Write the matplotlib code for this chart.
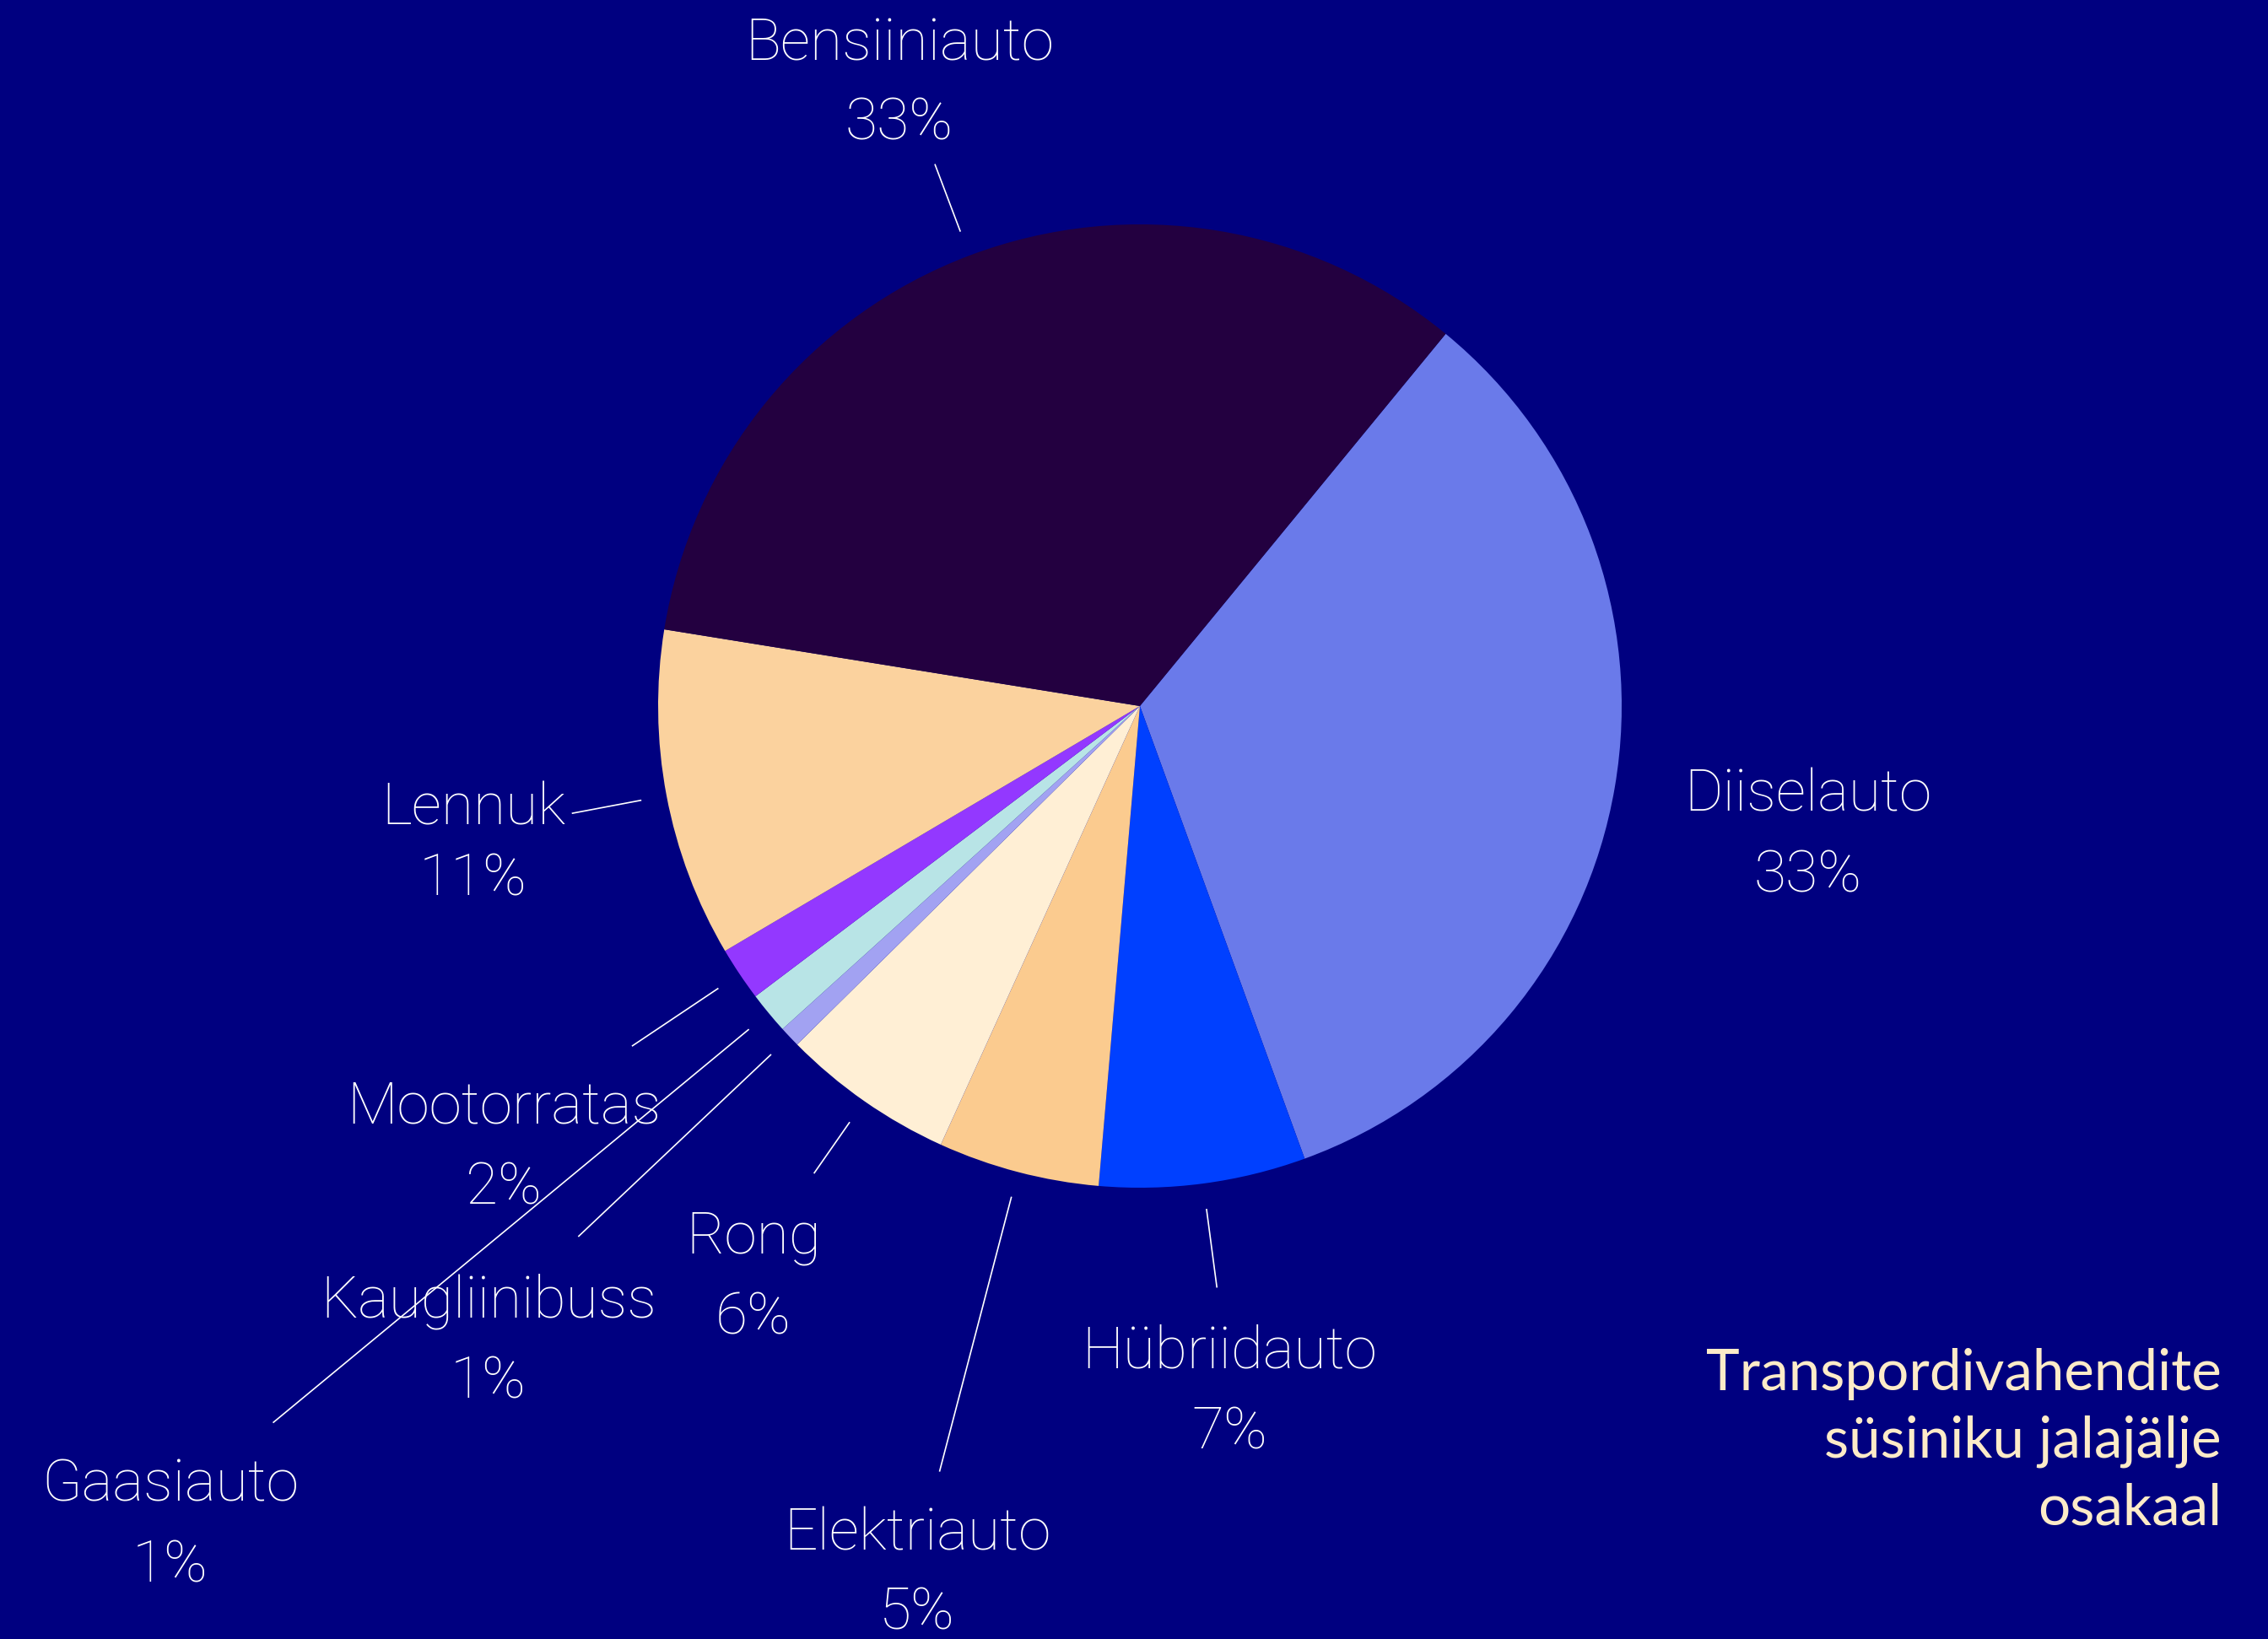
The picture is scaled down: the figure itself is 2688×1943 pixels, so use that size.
import numpy as np
import matplotlib
matplotlib.use('Agg')
import matplotlib.pyplot as plt

# share of transport carbon footprint (%), clockwise from the top right
categories=['Diiselauto','Hübriidauto','Elektriauto','Rong','Kaugliinibuss','Gaasiauto','Mootorratas','Lennuk','Bensiiniauto']
shares=[33.4,6.9,5.4,5.8,0.7,1.4,1.8,11.0,33.3]
colors=['#6a7aea','#0040ff','#fbcb8f','#ffefd5','#a2a2f2','#b8e4e6','#9338ff','#fbd29e','#230040']
title_lines=['Transpordivahendite','süsiniku jalajälje','osakaal']

W,H=2688,1943
bg='#000080'

# label baselines in pixels from the top (name, percent) and leader line length
label_x=[2143,1457,1087,893,579,202,597,561,1066]
label_y=[962,1622,1838,1486,1562,1779,1332,977,72]
pct_gap=[96,96,93,96,96,96,96,84,94]
leader_r=[0,1.218,1.643,1.183,1.604,2.335,1.269,1.2,1.203]

fig=plt.figure(figsize=(W/100,H/100),dpi=100,facecolor=bg)
ax=fig.add_axes([0,0,1,1])
ax.set_facecolor(bg)

cx,cy,r=1351,H-837,571
wedges,_=ax.pie(shares,colors=colors,startangle=50.6,counterclock=False,
                center=(cx,cy),radius=r,wedgeprops={'linewidth':0},frame=True)
ax.set_xlim(0,W)
ax.set_ylim(0,H)
ax.set_aspect('equal')
ax.axis('off')

font='Roboto'
for i,w in enumerate(wedges):
    if leader_r[i]>0:
        a=np.deg2rad((w.theta1+w.theta2)/2)
        r0,r1=1.053*r,leader_r[i]*r
        ax.plot([cx+r0*np.cos(a),cx+r1*np.cos(a)],[cy+r0*np.sin(a),cy+r1*np.sin(a)],
                color='white',lw=1.2,solid_capstyle='butt')
    ax.text(label_x[i],H-label_y[i],categories[i],color='white',fontsize=50,
            family=font,fontweight='light',ha='center',va='baseline')
    ax.text(label_x[i],H-label_y[i]-pct_gap[i],'%d%%'%round(shares[i]),color='white',fontsize=50,
            family=font,fontweight='light',ha='center',va='baseline')

for j,line in enumerate(title_lines):
    ax.text(2633,H-1648-80*j,line,color='#fdebc8',fontsize=48.5,family='Lato',
            ha='right',va='baseline')

plt.savefig('out.png',dpi=100,facecolor=bg)
